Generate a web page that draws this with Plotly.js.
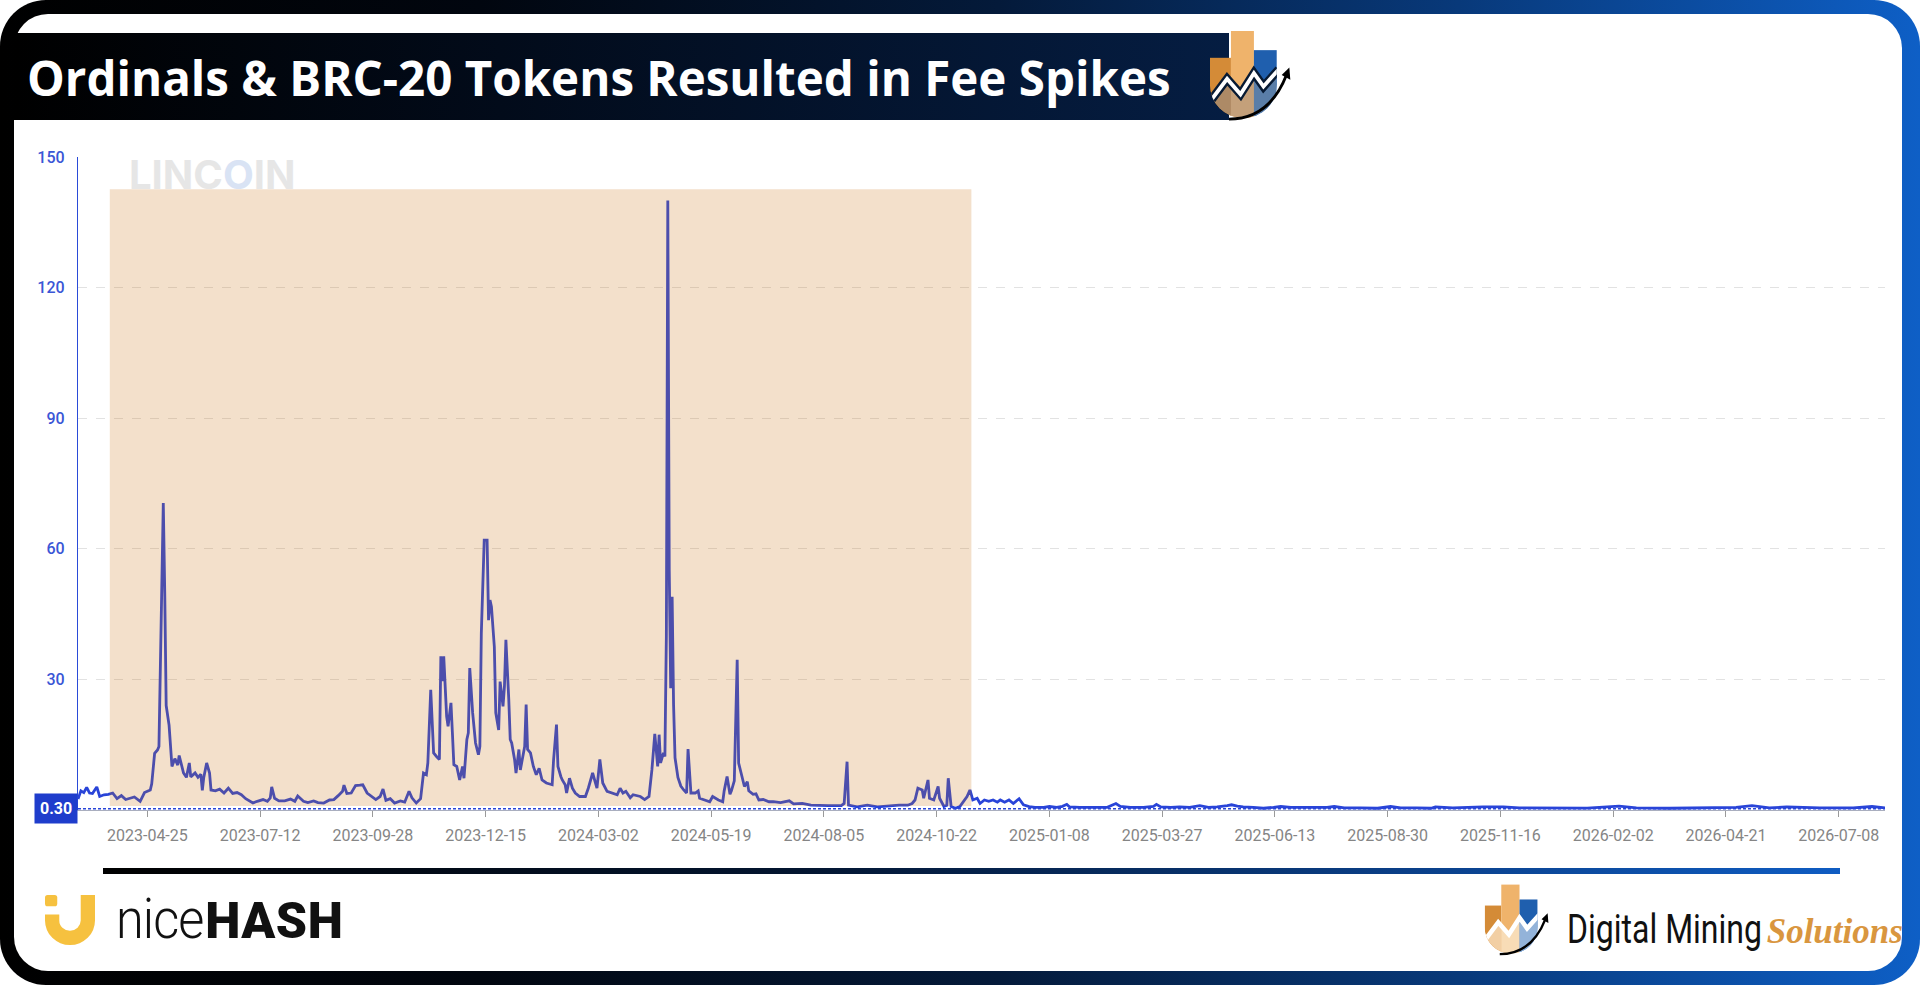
<!DOCTYPE html>
<html>
<head>
<meta charset="utf-8">
<script src="https://cdn.plot.ly/plotly-3.0.1.min.js"></script>
<style>
html,body{margin:0;padding:0;width:1920px;height:985px;overflow:hidden;background:#fff;}
#frame{position:absolute;left:0;top:0;width:1920px;height:985px;border-radius:46px;
  background:linear-gradient(90deg,#000 0%,#01060f 25%,#041a3a 52%,#08397a 76%,#0e5fc6 100%);}
#inner{position:absolute;left:14px;top:14px;right:18px;bottom:14px;background:#fff;border-radius:34px;}
#band{position:absolute;left:14px;top:33px;width:1215px;height:87px;
  background:linear-gradient(90deg,#000 0%,#020b1a 40%,#051d42 100%);}
#sep{position:absolute;left:103px;top:868px;width:1737px;height:6px;
  background:linear-gradient(90deg,#000 0%,#031530 40%,#0a3f88 75%,#0f5cc2 100%);}
#chart{position:absolute;left:0;top:0;width:1920px;height:985px;}
#logoTop{position:absolute;left:1204px;top:31px;}
#nh{position:absolute;left:45px;top:895px;height:50px;}
#nhText{position:absolute;left:116px;top:886px;font-family:Roboto,sans-serif;color:#111;white-space:nowrap;}
#dmIcon{position:absolute;left:1480px;top:884px;}
#dmText{position:absolute;left:1567px;top:906px;white-space:nowrap;}
</style>
</head>
<body>
<div id="frame"></div>
<div id="inner"></div>
<div id="band"></div>
<div id="sep"></div>

<svg id="logoTop" width="96" height="90" viewBox="0 0 100 94">
  <defs>
    <clipPath id="cA"><path d="M6 0H76V56A35 35 0 0 1 6 56Z"/></clipPath>
    <clipPath id="lowA"><polygon points="6,74 24,50 38,66 52,44 62,58 76,44 76,100 6,100"/></clipPath>
  </defs>
  <g clip-path="url(#cA)">
    <rect x="6" y="28" width="22" height="72" fill="#d48b37"/>
    <rect x="28" y="0" width="24" height="100" fill="#efb36b"/>
    <rect x="52" y="20" width="24" height="80" fill="#1f5fae"/>
    <g clip-path="url(#lowA)">
      <rect x="6" y="0" width="22" height="100" fill="#ad8a66"/>
      <rect x="28" y="0" width="24" height="100" fill="#c4a07a"/>
      <rect x="52" y="0" width="24" height="100" fill="#5a7ea8"/>
    </g>
    <polyline points="6,74 24,50 38,66 52,44 62,58 78,40" fill="none" stroke="#071a33" stroke-width="9"/>
    <polyline points="6,74 24,50 38,66 52,44 62,58 78,40" fill="none" stroke="#fff" stroke-width="4"/>
  </g>
  <path d="M26 92 Q68 92 86 46" fill="none" stroke="#000" stroke-width="3"/>
  <polygon points="89,38 90,51 81,46" fill="#000"/>
</svg>

<svg id="nh" width="50" height="50" viewBox="0 0 49 49">
  <rect x="0" y="0" width="12" height="11" rx="2.5" fill="#f6c13f"/>
  <path d="M0 19H14V25A10.5 10 0 0 0 35 25V0H49V25A24.5 24 0 0 1 0 25Z" fill="#f6c13f"/>
</svg>
<div id="nhText"><span style="font-weight:300;font-size:56px;letter-spacing:-1px;display:inline-block;transform:scaleX(0.9);transform-origin:left;">nice</span><span style="font-weight:900;font-size:50px;letter-spacing:0.5px;position:relative;left:-8px;">HASH</span></div>

<svg id="dmIcon" width="76" height="72" viewBox="0 0 100 94">
  <defs>
    <clipPath id="cB"><path d="M6 0H76V56A35 35 0 0 1 6 56Z"/></clipPath>
    <clipPath id="lowB"><polygon points="6,74 24,50 38,66 52,44 62,58 76,44 76,100 6,100"/></clipPath>
  </defs>
  <g clip-path="url(#cB)">
    <rect x="6" y="28" width="22" height="72" fill="#d48b37"/>
    <rect x="28" y="0" width="24" height="100" fill="#efb36b"/>
    <rect x="52" y="20" width="24" height="80" fill="#1f5fae"/>
    <g clip-path="url(#lowB)">
      <rect x="6" y="0" width="22" height="100" fill="#f2cfa4"/>
      <rect x="28" y="0" width="24" height="100" fill="#f8dcb6"/>
      <rect x="52" y="0" width="24" height="100" fill="#93b3d9"/>
    </g>
    <polyline points="6,74 24,50 38,66 52,44 62,58 78,40" fill="none" stroke="#fff" stroke-width="6"/>
  </g>
  <path d="M26 92 Q68 92 86 46" fill="none" stroke="#000" stroke-width="3"/>
  <polygon points="89,38 90,51 81,46" fill="#000"/>
</svg>
<div id="dmText"><span style="font-family:Roboto,sans-serif;font-size:40px;color:#111;display:inline-block;transform:scaleX(0.8);transform-origin:left;">Digital Mining</span><span style="font-family:'Liberation Serif',serif;font-style:italic;font-weight:700;font-size:35px;color:#d9963f;position:relative;left:-44px;">Solutions</span></div>

<div id="chart"></div>

<script>
// ---- data ----
const dates = [
'2023-03-08','2023-03-10','2023-03-12','2023-03-14','2023-03-16','2023-03-18','2023-03-21','2023-03-23','2023-03-26','2023-03-29',
'2023-04-01','2023-04-04','2023-04-07','2023-04-10','2023-04-13','2023-04-16','2023-04-20','2023-04-23','2023-04-27','2023-04-28',
'2023-04-30','2023-05-02','2023-05-03','2023-05-04','2023-05-06','2023-05-07','2023-05-08','2023-05-10','2023-05-12','2023-05-14',
'2023-05-16','2023-05-17','2023-05-20','2023-05-22','2023-05-24','2023-05-25','2023-05-28','2023-05-30','2023-06-01','2023-06-02',
'2023-06-03','2023-06-05','2023-06-07','2023-06-08','2023-06-11','2023-06-14','2023-06-17','2023-06-20','2023-06-23','2023-06-26',
'2023-06-29','2023-07-02','2023-07-07','2023-07-10','2023-07-14','2023-07-17','2023-07-19','2023-07-20','2023-07-22','2023-07-25',
'2023-07-29','2023-08-02','2023-08-05','2023-08-07','2023-08-11','2023-08-14','2023-08-18','2023-08-21','2023-08-25','2023-08-29',
'2023-09-01','2023-09-04','2023-09-07','2023-09-08','2023-09-10','2023-09-13','2023-09-16','2023-09-19','2023-09-21','2023-09-24',
'2023-09-27','2023-09-30','2023-10-03','2023-10-05','2023-10-07','2023-10-10','2023-10-13','2023-10-17','2023-10-20','2023-10-23',
'2023-10-25','2023-10-28','2023-10-31',
'2023-11-02','2023-11-04','2023-11-05','2023-11-07','2023-11-09','2023-11-11','2023-11-13','2023-11-14','2023-11-15','2023-11-16',
'2023-11-18','2023-11-19','2023-11-21','2023-11-22','2023-11-23','2023-11-25','2023-11-27','2023-11-29','2023-11-30','2023-12-02',
'2023-12-03','2023-12-04','2023-12-06','2023-12-08','2023-12-10','2023-12-11','2023-12-12','2023-12-14','2023-12-16','2023-12-17',
'2023-12-18','2023-12-19','2023-12-21','2023-12-22','2023-12-24','2023-12-25','2023-12-27','2023-12-28','2023-12-29','2023-12-31',
'2024-01-01','2024-01-02','2024-01-04','2024-01-05','2024-01-07','2024-01-08','2024-01-10','2024-01-11','2024-01-12','2024-01-13',
'2024-01-15','2024-01-17','2024-01-19','2024-01-21','2024-01-23','2024-01-26','2024-01-30','2024-01-31','2024-02-02','2024-02-03',
'2024-02-05','2024-02-06','2024-02-08','2024-02-09','2024-02-11','2024-02-13','2024-02-15','2024-02-18','2024-02-22','2024-02-24',
'2024-02-27','2024-03-01','2024-03-03','2024-03-05','2024-03-08','2024-03-11','2024-03-15','2024-03-17','2024-03-19','2024-03-21',
'2024-03-24','2024-03-26','2024-03-31','2024-04-03','2024-04-06','2024-04-08','2024-04-10','2024-04-12','2024-04-13','2024-04-14',
'2024-04-16','2024-04-17','2024-04-18','2024-04-19','2024-04-20','2024-04-21','2024-04-22','2024-04-23','2024-04-24',
'2024-04-26','2024-04-28','2024-04-30','2024-05-02','2024-05-03','2024-05-05','2024-05-08','2024-05-10','2024-05-11','2024-05-15',
'2024-05-18','2024-05-20','2024-05-22','2024-05-24','2024-05-27','2024-05-28','2024-05-30','2024-06-01','2024-06-02','2024-06-04',
'2024-06-06','2024-06-07','2024-06-09','2024-06-11','2024-06-13','2024-06-14','2024-06-17','2024-06-19','2024-06-21','2024-06-24',
'2024-06-28','2024-07-01','2024-07-06','2024-07-12','2024-07-15','2024-07-21','2024-07-27','2024-08-03','2024-08-08','2024-08-17',
'2024-08-19','2024-08-21','2024-08-22','2024-08-28','2024-09-04','2024-09-11','2024-09-19','2024-09-26','2024-10-02','2024-10-05',
'2024-10-07','2024-10-09','2024-10-12','2024-10-13','2024-10-16','2024-10-17','2024-10-20','2024-10-23','2024-10-24','2024-10-27',
'2024-10-29','2024-10-30','2024-11-01','2024-11-04','2024-11-07','2024-11-10','2024-11-12','2024-11-14','2024-11-16','2024-11-19',
'2024-11-21','2024-11-24','2024-11-27','2024-11-30','2024-12-03','2024-12-05','2024-12-08','2024-12-11','2024-12-14','2024-12-18',
'2024-12-21','2024-12-25','2024-12-29','2025-01-04','2025-01-08','2025-01-13','2025-01-17','2025-01-20','2025-01-22','2025-01-29',
'2025-02-07','2025-02-17','2025-02-21','2025-02-23','2025-02-26','2025-03-05','2025-03-14','2025-03-21','2025-03-23','2025-03-26',
'2025-04-02','2025-04-08','2025-04-15','2025-04-22','2025-04-28','2025-05-04','2025-05-11','2025-05-14','2025-05-18','2025-05-22',
'2025-05-29','2025-06-05','2025-06-12','2025-06-17','2025-06-24','2025-07-03','2025-07-12','2025-07-19','2025-07-24','2025-07-31',
'2025-08-11','2025-08-23','2025-09-01','2025-09-08','2025-09-19','2025-09-29','2025-10-02','2025-10-14','2025-11-04','2025-11-18',
'2025-11-29','2025-12-22','2026-01-15','2026-02-06','2026-02-18','2026-03-13','2026-04-05','2026-04-28','2026-05-09','2026-05-21',
'2026-06-02','2026-06-25','2026-07-18','2026-07-31','2026-08-09'
];
const fees = [
2.5,4.4,4.0,5.2,3.9,3.8,5.3,3.1,3.5,3.6,
3.9,2.6,3.3,2.4,2.7,3.0,2.0,4.0,4.6,6.0,
13.0,13.8,14.6,35,70.5,50,24,19.5,10,11.8,
10.3,12.5,8.5,7.5,10.8,7.6,8.5,7.5,8.2,4.5,
7.5,10.8,8.5,4.6,4.4,4.8,3.9,5.0,3.8,4.0,
3.5,2.6,1.6,2.0,2.4,2.0,2.8,5.3,2.7,2.1,
2.1,2.5,2.0,3.2,2.0,1.7,2.1,1.7,1.6,2.3,
2.4,3.3,4.3,5.7,3.8,3.9,5.6,5.7,5.8,3.9,
3.1,2.4,3.1,4.8,2.2,2.6,1.6,2.1,1.8,4.3,
2.8,1.6,2.6,
8.5,8.1,10.8,27.6,13.1,12.3,11.6,35.3,29.6,35.3,
21.5,19.2,24.6,17.7,10.4,10,6.9,10,7.3,16.2,
17.7,32.6,22.3,15.4,12.7,14.6,40.6,62,62,43.6,
48.2,46.7,37.5,22.3,18.4,29.5,23.8,28.4,39.1,25.3,
16.2,15.4,11.6,8.5,13.9,9.2,12.3,14.6,24.2,13.9,
13.1,10,8.1,9.6,6.9,6.2,5.8,11.6,19.6,10,
7.7,6.9,5.8,3.9,7.3,5,3.9,3.1,3.1,5,
8.5,5,11.6,6.2,4.3,3.9,3.5,5,3.9,4.3,
2.8,3.5,3.1,2.4,3.1,9.2,17.5,10,17.3,10.8,
13.1,12.3,40,140,55,28,49,24,12,
7.5,5.5,4.6,3.9,14,3.9,3.9,4.4,2.7,2.3,
1.9,3.1,2.7,2.3,1.9,4.4,7.7,3.6,4.4,6.7,
34.5,10.8,8.1,5.4,6.5,4.4,3.6,3.7,2.3,2.4,
1.9,1.9,1.7,2.1,1.4,1.5,1.1,1.0,1.0,1.0,
1.5,11.1,1.1,0.7,1.1,0.7,1.0,1.1,1.1,1.5,
2.3,5.0,4.6,2.7,6.9,2.7,2.3,5.4,2.7,0.8,
1.1,7.3,0.8,0.4,0.8,2.3,3.1,4.6,2.3,2.7,
1.5,2.3,2.0,2.3,1.8,2.3,1.8,2.3,1.5,2.6,
1.2,0.8,0.6,0.6,0.8,0.6,0.85,1.3,0.7,0.6,
0.6,0.6,1.2,1.5,0.85,0.6,0.6,0.85,1.3,0.7,
0.6,0.7,0.6,1.0,0.6,0.7,1.0,1.2,0.9,0.7,
0.6,0.4,0.6,0.8,0.6,0.6,0.5,0.6,0.8,0.5,
0.5,0.4,0.8,0.5,0.5,0.4,0.7,0.5,0.7,0.7,
0.5,0.4,0.45,0.9,0.5,0.4,0.5,0.6,1.0,0.5,
0.7,0.5,0.5,0.8,0.5
];
const tickDates = ['2023-04-25','2023-07-12','2023-09-28','2023-12-15','2024-03-02','2024-05-19','2024-08-05','2024-10-22',
  '2025-01-08','2025-03-27','2025-06-13','2025-08-30','2025-11-16','2026-02-02','2026-04-21','2026-07-08'];
const yTicks = [30, 60, 90, 120, 150];
const xRange = ['2023-03-08', '2026-08-09'];
const yRange = [0, 150];
const shadeStart = '2023-03-30';
const shadeEnd = '2024-11-15';
const shadeTop = 142.6;
const currentValue = 0.30;
const currentLabel = '0.30';
const titleText = 'Ordinals & BRC-20 Tokens Resulted in Fee Spikes';

const trace = {
  type: 'scatter', mode: 'lines', x: dates, y: fees,
  line: {color: '#2944d8', width: 2.8}, hoverinfo: 'skip', showlegend: false
};

const layout = {
  width: 1920, height: 985,
  margin: {l: 78, r: 35, t: 157, b: 175},
  paper_bgcolor: 'rgba(0,0,0,0)', plot_bgcolor: 'rgba(0,0,0,0)',
  title: {
    text: '<b>' + titleText.replace('&', '&amp;') + '</b>',
    xref: 'container', yref: 'container', x: 27/1920, xanchor: 'left', y: 1 - 79/985, yanchor: 'middle',
    font: {family: '"Open Sans", sans-serif', size: 47.5, color: '#ffffff'}
  },
  xaxis: {
    type: 'date', range: xRange, tickvals: tickDates, ticktext: tickDates,
    showgrid: false, zeroline: false, showline: true, linecolor: '#a9aebf', linewidth: 1,
    ticks: 'outside', ticklen: 6, tickcolor: '#9a9a9a', tickwidth: 1,
    tickfont: {family: 'Roboto, sans-serif', size: 16, color: '#858585'}, ticklabelstandoff: 5
  },
  yaxis: {
    range: yRange, tickvals: yTicks, ticktext: yTicks.map(String),
    showgrid: true, gridcolor: '#e2e2e2', griddash: 'dash', gridwidth: 1,
    zeroline: false, showline: true, linecolor: '#2a4bd8', linewidth: 1.2, ticks: '',
    tickfont: {family: 'Roboto, sans-serif', size: 16, color: '#3b56d6', weight: 500}, ticklabelstandoff: 9
  },
  shapes: [
    {type: 'rect', xref: 'x', yref: 'y', x0: shadeStart, x1: shadeEnd, y0: 0.9, y1: shadeTop,
     fillcolor: 'rgb(200,114,19)', opacity: 0.22, line: {width: 0}, layer: 'above'},
    {type: 'line', xref: 'paper', yref: 'y', x0: 0, x1: 1, y0: currentValue, y1: currentValue,
     line: {color: '#2a45d8', width: 1.6, dash: '3px,2px'}, layer: 'above'}
  ],
  annotations: [
    {xref: 'paper', yref: 'y', x: 0, y: currentValue, xanchor: 'right', yanchor: 'middle', xshift: 0,
     text: '<b>' + currentLabel + '</b>', showarrow: false, bgcolor: '#1f3dcc', borderpad: 5,
     font: {family: 'Roboto, sans-serif', size: 16, color: '#ffffff'}},
    {xref: 'paper', yref: 'y', x: (127 - 78) / (1885 - 78), y: 146, xanchor: 'left', yanchor: 'middle',
     text: '<b>LINC<span style="color:#d9e3f4">O</span>IN</b>', showarrow: false,
     font: {family: 'Inter, sans-serif', size: 40, color: '#e6e6e6'}}
  ]
};

Plotly.newPlot('chart', [trace], layout, {displayModeBar: false, staticPlot: true});
</script>
</body>
</html>
